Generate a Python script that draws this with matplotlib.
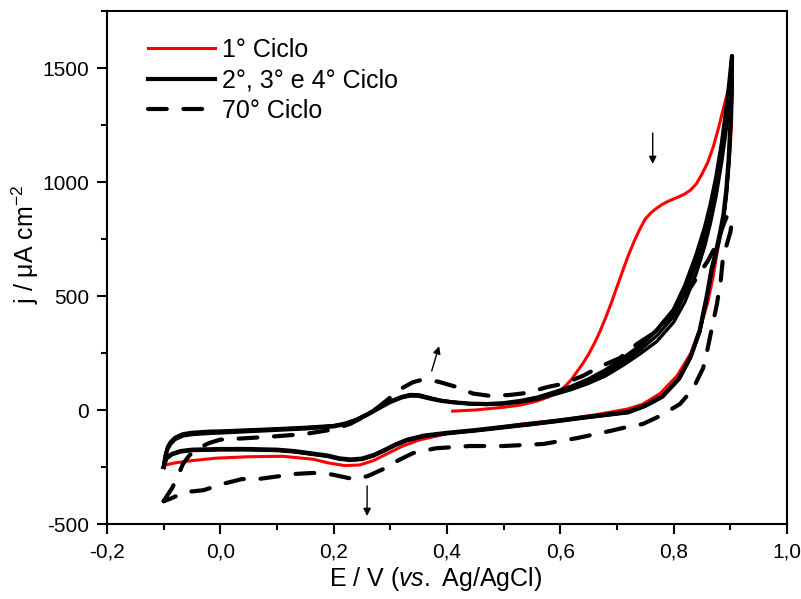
import numpy as np
import matplotlib
matplotlib.use("Agg")
import matplotlib.pyplot as plt
from matplotlib.ticker import MultipleLocator, FuncFormatter

FONT = "Liberation Sans"
plt.rcParams["font.family"] = [FONT, "DejaVu Sans"]
plt.rcParams["mathtext.fontset"] = "custom"
plt.rcParams["mathtext.rm"] = FONT
plt.rcParams["mathtext.it"] = FONT + ":italic"

RED = "#ff0000"

# ---------- 1st cycle (red) ----------
e1 = [0.41, 0.45, 0.50, 0.53, 0.56, 0.58, 0.60, 0.61, 0.62, 0.63, 0.64, 0.65,
      0.66, 0.67, 0.68, 0.69, 0.70, 0.71, 0.72, 0.73, 0.74, 0.75, 0.76, 0.77,
      0.78, 0.79, 0.80, 0.81, 0.82, 0.83, 0.84, 0.85, 0.86, 0.87, 0.88, 0.89,
      0.90, 0.903,
      0.904, 0.902, 0.899, 0.895, 0.89, 0.885, 0.878, 0.87, 0.86, 0.845, 0.83,
      0.806, 0.776, 0.745, 0.718, 0.66, 0.60, 0.53, 0.45, 0.40, 0.35, 0.32,
      0.30, 0.27, 0.246, 0.22, 0.19, 0.164, 0.11, 0.05, -0.006, -0.05, -0.08,
      -0.095, -0.1]
j1 = [-5, 0, 12, 22, 40, 58, 85, 108, 135, 170, 205, 245,
      292, 345, 405, 470, 540, 610, 678, 738, 792, 838, 865, 885,
      902, 915, 926, 936, 948, 965, 992, 1035, 1085, 1155, 1245, 1345,
      1440, 1470,
      1400, 1250, 1120, 1010, 880, 790, 710, 590, 470, 345, 248,
      150, 72, 25, 4, -22, -44, -62, -90, -104, -132, -160,
      -185, -222, -241, -244, -232, -216, -203, -205, -211, -222, -232,
      -240, -248]

# ---------- 2nd, 3rd and 4th cycles (black) ----------
e_fwd = [-0.1, -0.097, -0.093, -0.088, -0.08, -0.066, -0.05, -0.02, 0.0, 0.05,
         0.1, 0.15, 0.2, 0.22, 0.24, 0.26, 0.28, 0.30, 0.32, 0.335, 0.35, 0.37,
         0.39, 0.41, 0.44, 0.47, 0.50, 0.53, 0.56, 0.59, 0.62, 0.65, 0.68, 0.71,
         0.74, 0.77, 0.80, 0.82, 0.84, 0.855, 0.865, 0.875, 0.885, 0.895, 0.903]
e_rev = [0.902, 0.9, 0.897, 0.893, 0.888, 0.882, 0.875, 0.867, 0.858, 0.846,
         0.83, 0.81, 0.78, 0.75, 0.72, 0.68, 0.64, 0.6, 0.55, 0.5, 0.45, 0.4,
         0.36, 0.33, 0.31, 0.29, 0.27, 0.25, 0.23, 0.21, 0.19, 0.16, 0.13, 0.1,
         0.05, 0.0, -0.05, -0.07, -0.085, -0.095, -0.1]
e_blk = e_fwd + e_rev

j2 = [-250, -205, -170, -148, -128, -112, -106, -101, -99, -93,
      -87, -81, -72, -62, -45, -20, 8, 35, 55, 63, 62, 50,
      40, 34, 28, 26, 30, 40, 55, 78, 103, 135, 175, 225,
      280, 350, 440, 545, 680, 800, 900, 1020, 1170, 1360, 1553,
      1420, 1250, 1100, 970, 860, 780, 700, 620, 495, 350,
      235, 140, 60, 20, -8, -20, -32, -45, -60, -74, -88, -100,
      -112, -130, -150, -175, -198, -213, -217, -212, -200, -190, -180, -174,
      -171, -171, -174, -180, -192, -210, -250]
j3 = [-250, -200, -165, -143, -124, -108, -102, -97, -95, -90,
      -84, -78, -70, -60, -43, -18, 10, 37, 57, 66, 65, 52,
      41, 34, 27, 25, 28, 37, 51, 72, 95, 124, 160, 208,
      262, 325, 410, 510, 640, 760, 860, 980, 1130, 1320, 1505,
      1380, 1220, 1080, 950, 845, 770, 690, 610, 488, 345,
      232, 138, 58, 18, -10, -22, -34, -47, -62, -76, -90, -102,
      -114, -132, -152, -177, -200, -215, -219, -214, -202, -192, -182, -176,
      -173, -173, -176, -182, -194, -212, -248]
j4 = [-248, -196, -160, -139, -120, -104, -98, -93, -92, -87,
      -82, -76, -68, -58, -41, -16, 12, 39, 59, 68, 67, 54,
      42, 35, 27, 24, 27, 35, 48, 68, 90, 117, 150, 195,
      245, 300, 385, 475, 600, 720, 820, 940, 1090, 1270, 1450,
      1340, 1190, 1060, 935, 835, 762, 682, 602, 482, 340,
      230, 136, 56, 16, -12, -24, -36, -49, -64, -78, -92, -104,
      -116, -134, -154, -179, -202, -217, -221, -216, -204, -194, -184, -178,
      -175, -175, -178, -184, -196, -214, -246]

# ---------- 70th cycle (dashed) ----------
e70 = [-0.1, -0.093, -0.085, -0.075, -0.066, -0.055, -0.041, -0.02, 0.0, 0.05,
       0.1, 0.15, 0.2, 0.23, 0.26, 0.28, 0.30, 0.32, 0.34, 0.355, 0.37, 0.385,
       0.414, 0.446, 0.476, 0.511, 0.541, 0.576, 0.605, 0.64, 0.67, 0.705,
       0.735, 0.77, 0.793, 0.82, 0.846, 0.86, 0.876, 0.886, 0.893, 0.899,
       0.904, 0.9, 0.894, 0.887, 0.883, 0.876, 0.87, 0.858, 0.852, 0.834,
       0.811, 0.776, 0.746, 0.71, 0.688, 0.63, 0.57, 0.5, 0.44, 0.38, 0.34,
       0.313, 0.3, 0.26, 0.235, 0.193, 0.164, 0.128, 0.105, 0.066, 0.038,
       0.003, -0.03, -0.062, -0.089, -0.1]
j70 = [-400, -372, -342, -290, -237, -200, -171, -145, -130, -123,
       -115, -105, -85, -60, -20, 15, 55, 95, 122, 132, 130, 124,
       103, 72, 62, 66, 75, 100, 115, 150, 190, 228,
       289, 346, 412, 500, 600, 653, 728, 800, 845, 853,
       838, 780, 728, 667, 566, 460, 390, 246, 184, 92,
       26, -26, -61, -79, -92, -123, -149, -158, -158, -168, -189,
       -222, -245, -290, -303, -281, -276, -281, -290, -303, -303,
       -325, -352, -360, -390, -400]

fig = plt.figure(figsize=(8.01, 5.99), dpi=100)
ax = fig.add_axes([107 / 801, 75 / 599, 680 / 801, 513 / 599])

ax.plot(e1, j1, color=RED, lw=2.2, label="1° Ciclo", zorder=2)
ax.plot(e_blk, j2, color="black", lw=3.0, label="2°, 3° e 4° Ciclo", zorder=3)
ax.plot(e_blk, j3, color="black", lw=2.4, zorder=3)
ax.plot(e_blk, j4, color="black", lw=2.4, zorder=3)
ax.plot(e70, j70, color="black", lw=3.0, ls=(0, (4.5, 4)),
        dash_capstyle="round", label="70° Ciclo", zorder=4)

arrow = dict(arrowstyle="-|>", color="black", lw=1.0, mutation_scale=11,
             shrinkA=0, shrinkB=0)
ax.annotate("", xy=(0.763, 1079), xytext=(0.763, 1215), arrowprops=arrow)
ax.annotate("", xy=(0.386, 280), xytext=(0.373, 171), arrowprops=arrow)
ax.annotate("", xy=(0.259, -465), xytext=(0.259, -333), arrowprops=arrow)

ax.set_xlim(-0.2, 1.0)
ax.set_ylim(-500, 1750)
ax.xaxis.set_major_locator(MultipleLocator(0.2))
ax.xaxis.set_minor_locator(MultipleLocator(0.1))
ax.yaxis.set_major_locator(MultipleLocator(500))
ax.yaxis.set_minor_locator(MultipleLocator(250))
ax.xaxis.set_major_formatter(FuncFormatter(lambda v, p: f"{v:.1f}".replace(".", ",").replace("-0,0", "0,0")))
ax.yaxis.set_major_formatter(FuncFormatter(lambda v, p: f"{v:.0f}"))
ax.tick_params(which="major", direction="out", length=7, width=1.5,
               labelsize=15, pad=6, top=False, right=False)
ax.tick_params(which="minor", direction="out", length=4, width=1.5,
               top=False, right=False)
for s in ax.spines.values():
    s.set_linewidth(1.5)

ax.set_xlabel(r"E / V ($\it{vs.}$ Ag/AgCl)", fontsize=18)
ax.set_ylabel(r"j / μA cm$^{\mathregular{-2}}$", fontsize=18)
ax.xaxis.set_label_coords((436 - 107) / 680, -0.08)
ax.yaxis.set_label_coords(-0.097, (524 - 244) / 513)

ax.legend(loc="upper left", bbox_to_anchor=(0.06, 0.948), frameon=False,
          fontsize=18, handlelength=2.68, handletextpad=0.28, labelspacing=0.27,
          borderpad=0, borderaxespad=0)

fig.savefig("out.png", dpi=100)
